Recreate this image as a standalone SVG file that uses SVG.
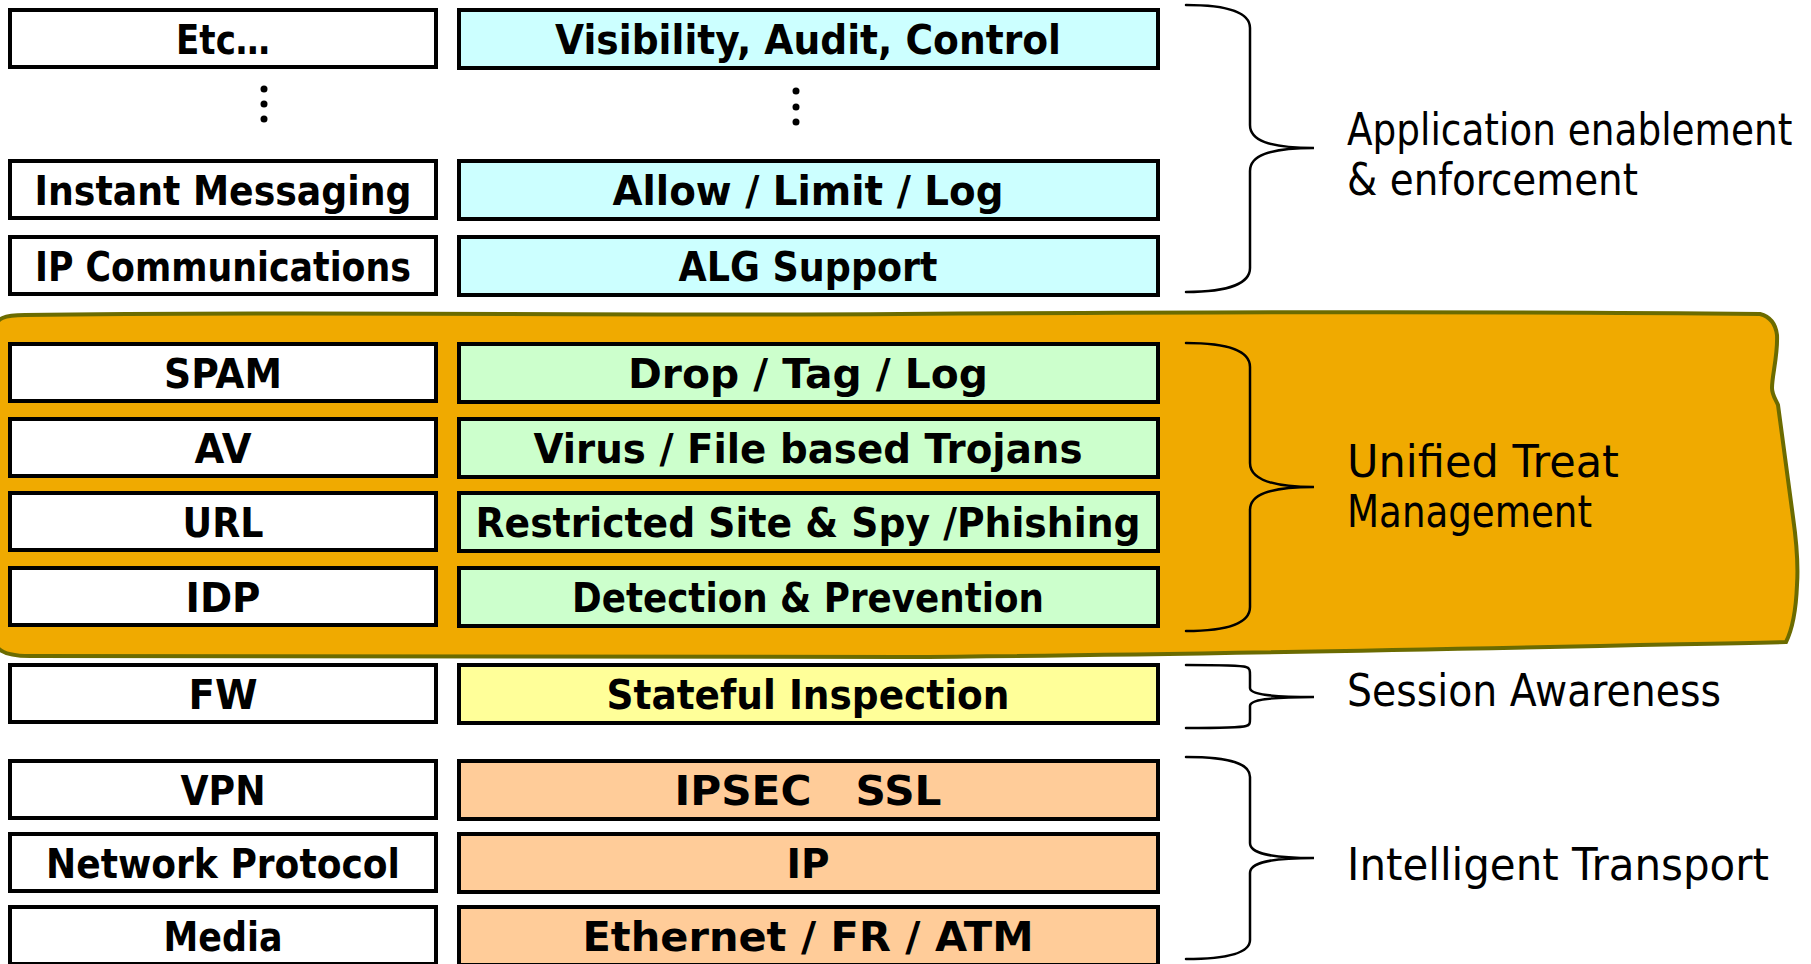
<svg xmlns="http://www.w3.org/2000/svg" width="1811" height="964" viewBox="0 0 1811 964">
  <style>
    .box { stroke: #000; stroke-width: 4; }
    .feat { fill: #fff; }
    .app { fill: #ccffff; }
    .utm { fill: #ccffcc; }
    .ses { fill: #ffff99; }
    .trn { fill: #ffcc99; }
    .lbl { font-family: "DejaVu Sans", "Liberation Sans", sans-serif; font-weight: bold; font-size: 41px; fill: #000; text-anchor: middle; }
    .side { font-family: "DejaVu Sans", "Liberation Sans", sans-serif; font-size: 44px; fill: #000; }
    .brace { fill: none; stroke: #000; stroke-width: 2.5; stroke-linecap: round; }
    .dot { fill: #000; }
  </style>

  <rect width="1811" height="964" fill="#fff"/>

  <!-- highlighted Unified Threat Management band -->
  <g id="utm-band">
    <path d="M -5,330 C -5,318 5,315 25,315 C 300,311 600,316 900,314 C 1200,312 1500,311 1760,314 Q 1775,318 1777,335 C 1778,355 1772,375 1772,388 C 1772,395 1776,400 1778,405 L 1793,517 C 1797,545 1798,570 1797,585 C 1796,610 1792,630 1786,642 C 1500,648 1200,655 900,657 C 600,659 300,654 30,656 C 5,656 -5,650 -5,640 Z" fill="#f0aa00" stroke="#6b6b00" stroke-width="4"/>
  </g>

  <!-- application layer -->
  <g id="etc">
    <rect class="box feat" x="10" y="10" width="426" height="57"/>
    <text class="lbl" x="223" y="54" textLength="94" lengthAdjust="spacingAndGlyphs">Etc…</text>
  </g>
  <g id="visibility">
    <rect class="box app" x="459" y="10" width="699" height="58"/>
    <text class="lbl" x="808" y="54" textLength="506" lengthAdjust="spacingAndGlyphs">Visibility, Audit, Control</text>
  </g>
  <g id="ellipsis-left">
    <circle class="dot" cx="264" cy="89" r="3.5"/>
    <circle class="dot" cx="264" cy="104" r="3.5"/>
    <circle class="dot" cx="264" cy="119" r="3.5"/>
  </g>
  <g id="ellipsis-right">
    <circle class="dot" cx="796" cy="91" r="3.5"/>
    <circle class="dot" cx="796" cy="107" r="3.5"/>
    <circle class="dot" cx="796" cy="122" r="3.5"/>
  </g>
  <g id="instant-messaging">
    <rect class="box feat" x="10" y="161" width="426" height="57"/>
    <text class="lbl" x="223" y="205" textLength="377" lengthAdjust="spacingAndGlyphs">Instant Messaging</text>
  </g>
  <g id="allow-limit-log">
    <rect class="box app" x="459" y="161" width="699" height="58"/>
    <text class="lbl" x="808" y="205" textLength="391" lengthAdjust="spacingAndGlyphs">Allow / Limit / Log</text>
  </g>
  <g id="ip-communications">
    <rect class="box feat" x="10" y="237" width="426" height="57"/>
    <text class="lbl" x="223" y="281" textLength="376" lengthAdjust="spacingAndGlyphs">IP Communications</text>
  </g>
  <g id="alg-support">
    <rect class="box app" x="459" y="237" width="699" height="58"/>
    <text class="lbl" x="808" y="281" textLength="259" lengthAdjust="spacingAndGlyphs">ALG Support</text>
  </g>

  <!-- threat management layer -->
  <g id="spam">
    <rect class="box feat" x="10" y="344" width="426" height="57"/>
    <text class="lbl" x="223" y="388" textLength="118" lengthAdjust="spacingAndGlyphs">SPAM</text>
  </g>
  <g id="drop-tag-log">
    <rect class="box utm" x="459" y="344" width="699" height="58"/>
    <text class="lbl" x="808" y="388" textLength="360" lengthAdjust="spacingAndGlyphs">Drop / Tag / Log</text>
  </g>
  <g id="av">
    <rect class="box feat" x="10" y="419" width="426" height="57"/>
    <text class="lbl" x="223" y="463" textLength="57" lengthAdjust="spacingAndGlyphs">AV</text>
  </g>
  <g id="virus">
    <rect class="box utm" x="459" y="419" width="699" height="58"/>
    <text class="lbl" x="808" y="463" textLength="549" lengthAdjust="spacingAndGlyphs">Virus / File based Trojans</text>
  </g>
  <g id="url">
    <rect class="box feat" x="10" y="493" width="426" height="57"/>
    <text class="lbl" x="223" y="537" textLength="81" lengthAdjust="spacingAndGlyphs">URL</text>
  </g>
  <g id="restricted-site">
    <rect class="box utm" x="459" y="493" width="699" height="58"/>
    <text class="lbl" x="808" y="537" textLength="665" lengthAdjust="spacingAndGlyphs">Restricted Site &amp; Spy /Phishing</text>
  </g>
  <g id="idp">
    <rect class="box feat" x="10" y="568" width="426" height="57"/>
    <text class="lbl" x="223" y="612" textLength="75" lengthAdjust="spacingAndGlyphs">IDP</text>
  </g>
  <g id="detection-prevention">
    <rect class="box utm" x="459" y="568" width="699" height="58"/>
    <text class="lbl" x="808" y="612" textLength="472" lengthAdjust="spacingAndGlyphs">Detection &amp; Prevention</text>
  </g>

  <!-- session layer -->
  <g id="fw">
    <rect class="box feat" x="10" y="665" width="426" height="57"/>
    <text class="lbl" x="223" y="709" textLength="69" lengthAdjust="spacingAndGlyphs">FW</text>
  </g>
  <g id="stateful-inspection">
    <rect class="box ses" x="459" y="665" width="699" height="58"/>
    <text class="lbl" x="808" y="709" textLength="403" lengthAdjust="spacingAndGlyphs">Stateful Inspection</text>
  </g>

  <!-- transport layer -->
  <g id="vpn">
    <rect class="box feat" x="10" y="761" width="426" height="57"/>
    <text class="lbl" x="223" y="805" textLength="85" lengthAdjust="spacingAndGlyphs">VPN</text>
  </g>
  <g id="ipsec-ssl">
    <rect class="box trn" x="459" y="761" width="699" height="58"/>
    <text class="lbl" x="808" y="805" textLength="267" lengthAdjust="spacingAndGlyphs" xml:space="preserve">IPSEC   SSL</text>
  </g>
  <g id="network-protocol">
    <rect class="box feat" x="10" y="834" width="426" height="57"/>
    <text class="lbl" x="223" y="878" textLength="354" lengthAdjust="spacingAndGlyphs">Network Protocol</text>
  </g>
  <g id="ip">
    <rect class="box trn" x="459" y="834" width="699" height="58"/>
    <text class="lbl" x="808" y="878" textLength="43" lengthAdjust="spacingAndGlyphs">IP</text>
  </g>
  <g id="media">
    <rect class="box feat" x="10" y="907" width="426" height="57"/>
    <text class="lbl" x="223" y="951" textLength="119" lengthAdjust="spacingAndGlyphs">Media</text>
  </g>
  <g id="ethernet-fr-atm">
    <rect class="box trn" x="459" y="907" width="699" height="58"/>
    <text class="lbl" x="808" y="951" textLength="451" lengthAdjust="spacingAndGlyphs">Ethernet / FR / ATM</text>
  </g>

  <!-- grouping braces -->
  <g id="connectors">
    <path class="brace" d="M1186,5 C1232,5 1250,14 1250,28 L1250,125 C1250,140 1268,148 1314,148 C1268,148 1250,156 1250,171 L1250,268 C1250,282 1232,292 1186,292"/>
    <path class="brace" d="M1186,343 C1232,343 1250,352 1250,367 L1250,463 C1250,478 1268,487 1314,487 C1268,487 1250,495 1250,510 L1250,607 C1250,622 1232,631 1186,631"/>
    <path class="brace" d="M1186,665 C1220,665 1240,665 1246,667 C1250,668 1250,671 1250,675 L1250,688 C1250,694 1268,697 1314,697 C1268,697 1250,700 1250,706 L1250,719 C1250,723 1250,725 1246,726 C1240,728 1220,728 1186,728"/>
    <path class="brace" d="M1186,757 C1232,757 1250,764 1250,777 L1250,843 C1250,853 1268,858 1314,858 C1268,858 1250,863 1250,873 L1250,940 C1250,952 1232,959 1186,959"/>
  </g>

  <!-- layer captions -->
  <g id="caption-app">
    <text class="side" transform="translate(1347,145) scale(0.85,1)">Application enablement</text>
    <text class="side" x="1347" y="195" textLength="291" lengthAdjust="spacingAndGlyphs">&amp; enforcement</text>
  </g>
  <g id="caption-utm">
    <text class="side" x="1347" y="477" textLength="272" lengthAdjust="spacingAndGlyphs">Unified Treat</text>
    <text class="side" x="1347" y="527" textLength="245" lengthAdjust="spacingAndGlyphs">Management</text>
  </g>
  <g id="caption-session">
    <text class="side" x="1347" y="706" textLength="374" lengthAdjust="spacingAndGlyphs">Session Awareness</text>
  </g>
  <g id="caption-transport">
    <text class="side" x="1347" y="880" textLength="422" lengthAdjust="spacingAndGlyphs">Intelligent Transport</text>
  </g>
</svg>
